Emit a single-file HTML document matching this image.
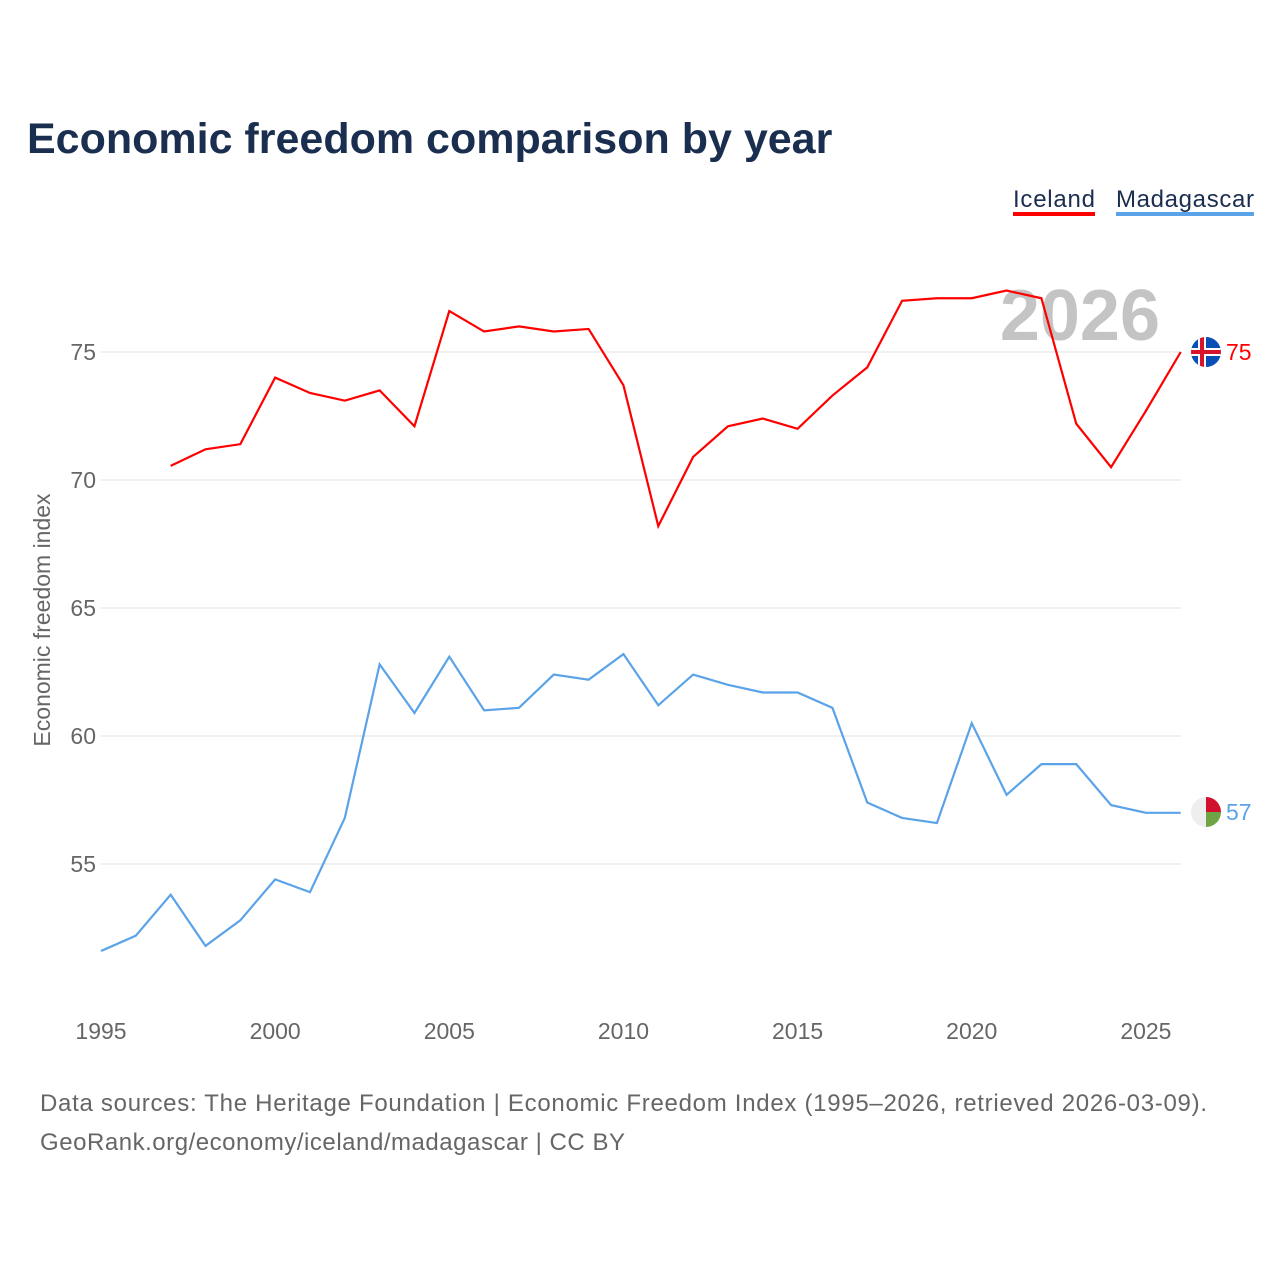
<!DOCTYPE html>
<html><head><meta charset="utf-8"><style>
body{margin:0;background:#fff;font-family:"Liberation Sans",sans-serif}
svg{display:block}
</style></head><body>
<svg width="1280" height="1280" xmlns="http://www.w3.org/2000/svg">
<text x="27" y="153" font-size="43" font-weight="bold" fill="#1a2e4f">Economic freedom comparison by year</text>
<g>
<text x="1013" y="207" font-size="24" fill="#1a2e4f" textLength="82">Iceland</text>
<rect x="1013" y="212" width="82" height="4" fill="#ff0000"/>
<text x="1116" y="207" font-size="24" fill="#1a2e4f" textLength="138">Madagascar</text>
<rect x="1116" y="212" width="138" height="4" fill="#5ba3e8"/>
</g>
<text x="1160" y="340" font-size="72" font-weight="bold" fill="#c4c4c4" text-anchor="end">2026</text>
<g id="grid"></g><g id="xt"></g><g id="lines"></g>
<text transform="translate(50,620) rotate(-90)" font-size="23" fill="#666" text-anchor="middle">Economic freedom index</text>
<defs>
<clipPath id="c1"><circle cx="1206" cy="352" r="15"/></clipPath>
<clipPath id="c2"><circle cx="1206" cy="812" r="15"/></clipPath>
</defs>
<g clip-path="url(#c1)">
<rect x="1190" y="336" width="32" height="32" fill="#0a4fb5"/>
<rect x="1190" y="348" width="32" height="8" fill="#fff"/><rect x="1198" y="336" width="8" height="32" fill="#fff"/>
<rect x="1190" y="350" width="32" height="4" fill="#d7142b"/><rect x="1200" y="336" width="4" height="32" fill="#d7142b"/>
</g>
<g clip-path="url(#c2)">
<rect x="1190" y="796" width="32" height="32" fill="#eee"/>
<rect x="1206" y="796" width="16" height="16" fill="#d0102c"/>
<rect x="1206" y="812" width="16" height="16" fill="#6fa446"/>
</g>
<text x="1226" y="360" font-size="23" fill="#ff0000">75</text>
<text x="1226" y="820" font-size="23" fill="#5ba3e8">57</text>
<text x="40" y="1111" font-size="24" fill="#666" textLength="1167">Data sources: The Heritage Foundation | Economic Freedom Index (1995–2026, retrieved 2026-03-09).</text>
<text x="40" y="1150" font-size="24" fill="#666" textLength="585">GeoRank.org/economy/iceland/madagascar | CC BY</text>
</svg>
<script>
const yTicks=[55,60,65,70,75];
const xTicks=[1995,2000,2005,2010,2015,2020,2025];
const icelandYears=[1997,1998,1999,2000,2001,2002,2003,2004,2005,2006,2007,2008,2009,2010,2011,2012,2013,2014,2015,2016,2017,2018,2019,2020,2021,2022,2023,2024,2025,2026];
const icelandVals=[70.55,71.2,71.4,74.0,73.4,73.1,73.5,72.1,76.6,75.8,76.0,75.8,75.9,73.7,68.2,70.9,72.1,72.4,72.0,73.3,74.4,77.0,77.1,77.1,77.4,77.1,72.2,70.5,72.7,75.0];
const madaYears=[1995,1996,1997,1998,1999,2000,2001,2002,2003,2004,2005,2006,2007,2008,2009,2010,2011,2012,2013,2014,2015,2016,2017,2018,2019,2020,2021,2022,2023,2024,2025,2026];
const madaVals=[51.6,52.2,53.8,51.8,52.8,54.4,53.9,56.8,62.8,60.9,63.1,61.0,61.1,62.4,62.2,63.2,61.2,62.4,62.0,61.7,61.7,61.1,57.4,56.8,56.6,60.5,57.7,58.9,58.9,57.3,57.0,57.0];
const X=y=>101+(y-1995)*34.83;
const Y=v=>352+(75-v)*25.6;
const NS="http://www.w3.org/2000/svg";
const g=document.getElementById('grid'),xt=document.getElementById('xt'),L=document.getElementById('lines');
yTicks.forEach(t=>{
 const l=document.createElementNS(NS,'line');
 
 
 l.setAttribute('x1',101);l.setAttribute('x2',1181);l.setAttribute('y1',Y(t));l.setAttribute('y2',Y(t));
 l.setAttribute('stroke','#e8e8e8');l.setAttribute('stroke-width','1.3');g.appendChild(l);
 const tx=document.createElementNS(NS,'text');
 
 
 tx.setAttribute('x',96);tx.setAttribute('y',Y(t)+8);tx.setAttribute('text-anchor','end');
 tx.setAttribute('font-size','23');tx.setAttribute('fill','#666');tx.textContent=t;g.appendChild(tx);
});
xTicks.forEach(t=>{
 const tx=document.createElementNS(NS,'text');
 
 
 tx.setAttribute('x',X(t));tx.setAttribute('y',1039);tx.setAttribute('text-anchor','middle');
 tx.setAttribute('font-size','23');tx.setAttribute('fill','#666');tx.textContent=t;xt.appendChild(tx);
});
function line(ys,vs,c,n){
 const p=document.createElementNS(NS,'polyline');
 
 
 p.setAttribute('points',ys.map((y,i)=>X(y)+','+Y(vs[i])).join(' '));
 p.setAttribute('fill','none');p.setAttribute('stroke',c);p.setAttribute('stroke-width','2.2');
 L.appendChild(p);
}
line(icelandYears,icelandVals,'#ff0000','iceland-line');
line(madaYears,madaVals,'#5ba3e8','madagascar-line');
</script>
</body></html>
